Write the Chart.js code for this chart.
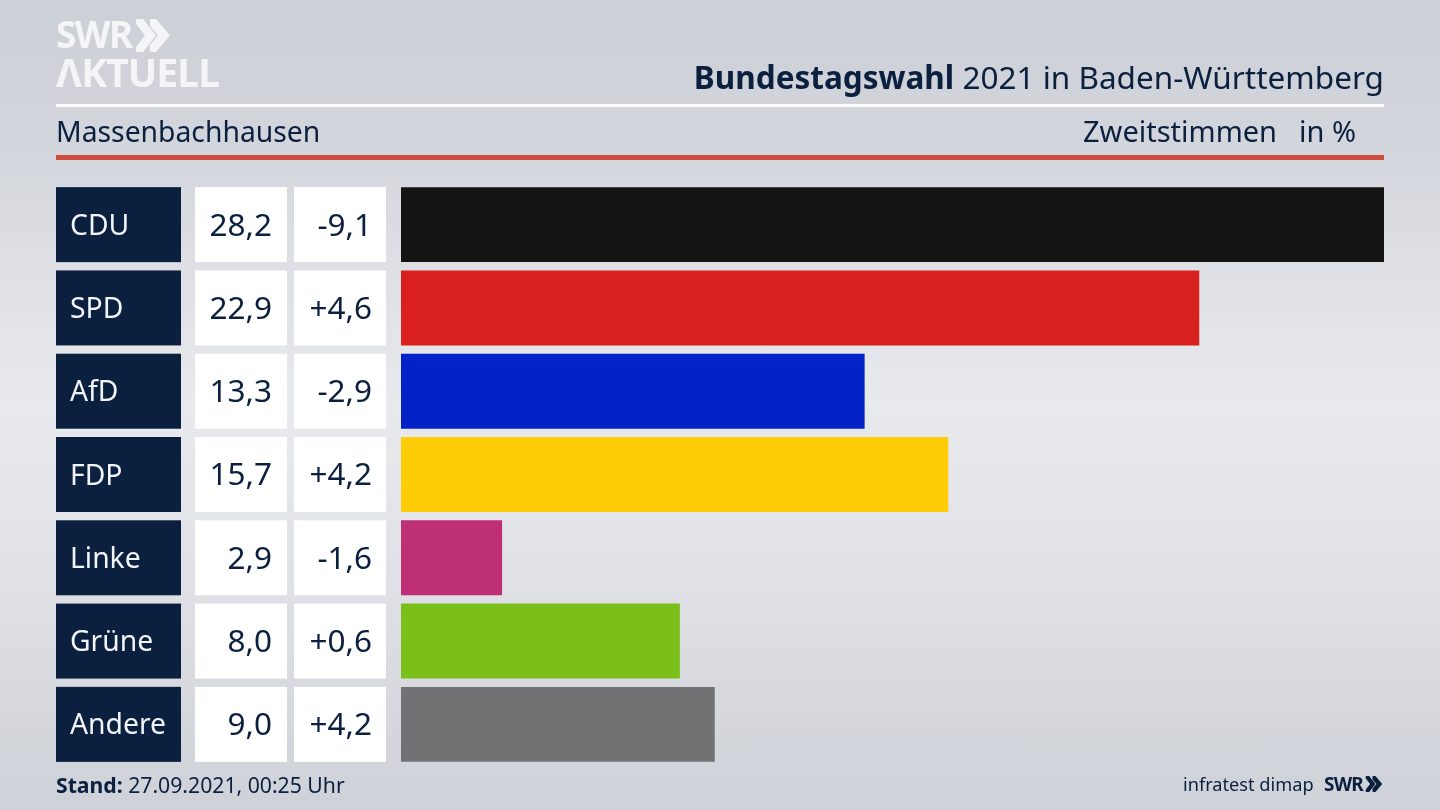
<!DOCTYPE html>
<html lang="de">
<head>
<meta charset="utf-8">
<title>Bundestagswahl 2021 in Baden-Württemberg</title>
<script src="https://cdn.jsdelivr.net/npm/chart.js@4"></script>
<style>
  html, body { margin: 0; padding: 0; }
  body {
    width: 1440px; height: 810px; overflow: hidden; position: relative;
    font-family: "Noto Sans", sans-serif; color: #0b1f3f;
    background: linear-gradient(180deg, #cbcfd6 0%, #d3d6dc 18%, #e9eaee 50%, #dfe1e6 72%, #ced1d7 100%);
  }
  #chart { position: absolute; left: 0; top: 0; }
  .abs { position: absolute; white-space: nowrap; line-height: 1; }
  .rule { position: absolute; left: 56px; width: 1328px; }
  .logo { color: #f4f5f7; font-weight: 700; }
</style>
</head>
<body>
<canvas id="chart" width="1440" height="810"></canvas>

<div class="abs logo" style="left:56px;top:15px;font-size:37px;letter-spacing:-1.6px">SWR</div>
<svg class="abs" style="left:136px;top:19px" width="36" height="33" viewBox="0 0 36 33">
  <path d="M0 0 L7 0 L20 16.5 L7 33 L0 33 L0 28 L9 16.5 L0 5 Z M14 0 L20 0 L34 16.5 L20 33 L14 33 L14 26 L22 16.5 L14 7 Z" fill="#f4f5f7"/>
</svg>
<div class="abs logo" style="left:56px;top:52px;font-size:39px;letter-spacing:-0.9px">ΛKTUELL</div>

<div class="abs" style="right:56px;top:61px;font-size:31.5px"><b>Bundestagswahl</b> 2021 in Baden-Württemberg</div>
<div class="rule" style="top:104px;height:3px;background:#fbfbfc"></div>
<div class="abs" style="left:56px;top:117px;font-size:28.3px">Massenbachhausen</div>
<div class="abs" style="left:1083px;top:116px;font-size:29px">Zweitstimmen</div>
<div class="abs" style="left:1299px;top:116px;font-size:29px">in %</div>
<div class="rule" style="top:155px;height:5px;background:#cc4c3b"></div>

<div class="abs" style="left:56px;top:774px;font-size:21.2px"><b>Stand:</b> 27.09.2021, 00:25 Uhr</div>
<div class="abs" style="left:1183px;top:775px;font-size:18.2px">infratest dimap</div>
<div class="abs" style="left:1324px;top:775px;font-size:19px;font-weight:700;letter-spacing:-0.8px">SWR</div>
<svg class="abs" style="left:1365px;top:776px" width="19" height="16" viewBox="0 0 36 33">
  <path d="M0 0 L7 0 L20 16.5 L7 33 L0 33 L0 28 L9 16.5 L0 5 Z M14 0 L20 0 L34 16.5 L20 33 L14 33 L14 26 L22 16.5 L14 7 Z" fill="#0b1f3f"/>
</svg>

<script>
const parties = ["CDU", "SPD", "AfD", "FDP", "Linke", "Grüne", "Andere"];
const shares = [28.2, 22.9, 13.3, 15.7, 2.9, 8.0, 9.0];
const changes = [-9.1, 4.6, -2.9, 4.2, -1.6, 0.6, 4.2];
const barColors = ["#141414", "#da201f", "#0322c8", "#ffcc08", "#bf2f75", "#7abf1a", "#727274"];

const navy = "#0b1f3f";
const fontName = '"Noto Sans", sans-serif';

function formatShare(v) {
  return v.toFixed(1).replace(".", ",");
}
function formatChange(v) {
  return (v > 0 ? "+" : "-") + Math.abs(v).toFixed(1).replace(".", ",");
}

// boxes behind the party names, and the two white number columns
const tableColumns = {
  id: "tableColumns",
  beforeDraw(chart) {
    const ctx = chart.ctx;
    const y = chart.scales.y;
    const rowH = 75;
    ctx.save();
    parties.forEach((p, i) => {
      const top = y.getPixelForValue(i) - rowH / 2;
      ctx.fillStyle = navy;
      ctx.fillRect(56, top, 125, rowH);
      ctx.fillStyle = "#ffffff";
      ctx.fillRect(195, top, 92, rowH);
      ctx.fillRect(294, top, 92, rowH);
    });
    ctx.restore();
  },
  afterDatasetsDraw(chart) {
    const ctx = chart.ctx;
    const y = chart.scales.y;
    ctx.save();
    ctx.fillStyle = navy;
    ctx.font = "31.5px " + fontName;
    ctx.textAlign = "right";
    ctx.textBaseline = "middle";
    parties.forEach((p, i) => {
      const mid = y.getPixelForValue(i) + 2;
      ctx.fillText(formatShare(shares[i]), 272, mid);
      ctx.fillText(formatChange(changes[i]), 372, mid);
    });
    ctx.restore();
  }
};

new Chart(document.getElementById("chart"), {
  type: "bar",
  data: {
    labels: parties,
    datasets: [{
      data: shares,
      backgroundColor: barColors,
      barPercentage: 0.9,
      categoryPercentage: 1
    }]
  },
  options: {
    indexAxis: "y",
    responsive: false,
    animation: false,
    layout: { padding: { left: 70, right: 56, top: 183, bottom: 44 } },
    plugins: { legend: { display: false }, tooltip: { enabled: false } },
    scales: {
      x: { display: false, min: 0, max: 28.2 },
      y: {
        afterFit(scale) { scale.width = 331; },
        grid: { display: false, drawTicks: false },
        border: { display: false },
        ticks: {
          crossAlign: "far",
          padding: 0,
          labelOffset: 2,
          color: "#f2f4f7",
          font: { family: fontName, size: 28.3 }
        }
      }
    }
  },
  plugins: [tableColumns]
});
</script>
</body>
</html>
